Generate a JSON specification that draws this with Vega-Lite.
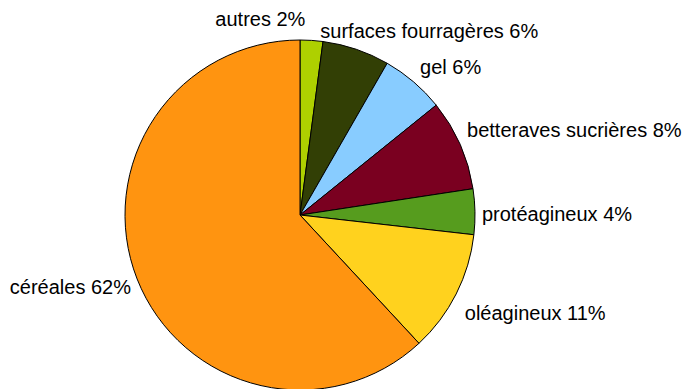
{
  "$schema": "https://vega.github.io/schema/vega-lite/v6.json",
  "autosize": "none",
  "width": 600,
  "height": 430,
  "padding": {"left": 0, "top": 0, "right": 83, "bottom": 0},
  "background": "white",
  "view": {"stroke": null},
  "data": {
    "values": [
      {"rank": 1, "cat": "autres", "value": 2.1, "label": "autres 2%"},
      {"rank": 2, "cat": "surfaces fourragères", "value": 6.2, "label": "surfaces fourragères 6%"},
      {"rank": 3, "cat": "gel", "value": 5.9, "label": "gel 6%"},
      {"rank": 4, "cat": "betteraves sucrières", "value": 8.4, "label": "betteraves sucrières 8%"},
      {"rank": 5, "cat": "protéagineux", "value": 4.2, "label": "protéagineux 4%"},
      {"rank": 6, "cat": "oléagineux", "value": 11.3, "label": "oléagineux 11%"},
      {"rank": 7, "cat": "céréales", "value": 61.9, "label": "céréales 62%"}
    ]
  },
  "encoding": {
    "theta": {"field": "value", "type": "quantitative", "stack": true},
    "order": {"field": "rank", "type": "quantitative"},
    "color": {
      "field": "cat",
      "type": "nominal",
      "legend": null,
      "scale": {
        "domain": ["autres", "surfaces fourragères", "gel", "betteraves sucrières", "protéagineux", "oléagineux", "céréales"],
        "range": ["#AED000", "#323F05", "#88CCFF", "#7A0020", "#569C1E", "#FFD21E", "#FF9410"]
      }
    }
  },
  "layer": [
    {
      "mark": {"type": "arc", "outerRadius": 175, "stroke": "black", "strokeWidth": 1}
    },
    {
      "mark": {"type": "text", "radius": 188, "align": "right", "baseline": "middle", "font": "Liberation Sans", "fontSize": 20, "dx": -7, "dy": -7},
      "encoding": {"color": {"value": "#000000"}, "text": {"condition": {"test": "datum.cat == 'autres'", "field": "label"}, "value": ""}}
    },
    {
      "mark": {"type": "text", "radius": 188, "align": "left", "baseline": "middle", "font": "Liberation Sans", "fontSize": 20, "dx": -40, "dy": -5},
      "encoding": {"color": {"value": "#000000"}, "text": {"condition": {"test": "datum.cat == 'surfaces fourragères'", "field": "label"}, "value": ""}}
    },
    {
      "mark": {"type": "text", "radius": 188, "align": "left", "baseline": "middle", "font": "Liberation Sans", "fontSize": 20, "dx": -2, "dy": -4},
      "encoding": {"color": {"value": "#000000"}, "text": {"condition": {"test": "datum.cat == 'gel'", "field": "label"}, "value": ""}}
    },
    {
      "mark": {"type": "text", "radius": 188, "align": "left", "baseline": "middle", "font": "Liberation Sans", "fontSize": 20, "dx": -5, "dy": -8},
      "encoding": {"color": {"value": "#000000"}, "text": {"condition": {"test": "datum.cat == 'betteraves sucrières'", "field": "label"}, "value": ""}}
    },
    {
      "mark": {"type": "text", "radius": 188, "align": "left", "baseline": "middle", "font": "Liberation Sans", "fontSize": 20, "dx": -6, "dy": 4},
      "encoding": {"color": {"value": "#000000"}, "text": {"condition": {"test": "datum.cat == 'protéagineux'", "field": "label"}, "value": ""}}
    },
    {
      "mark": {"type": "text", "radius": 188, "align": "left", "baseline": "middle", "font": "Liberation Sans", "fontSize": 20, "dx": -3, "dy": 14},
      "encoding": {"color": {"value": "#000000"}, "text": {"condition": {"test": "datum.cat == 'oléagineux'", "field": "label"}, "value": ""}}
    },
    {
      "mark": {"type": "text", "radius": 188, "align": "right", "baseline": "middle", "font": "Liberation Sans", "fontSize": 20, "dx": 6, "dy": 4},
      "encoding": {"color": {"value": "#000000"}, "text": {"condition": {"test": "datum.cat == 'céréales'", "field": "label"}, "value": ""}}
    }
  ]
}
